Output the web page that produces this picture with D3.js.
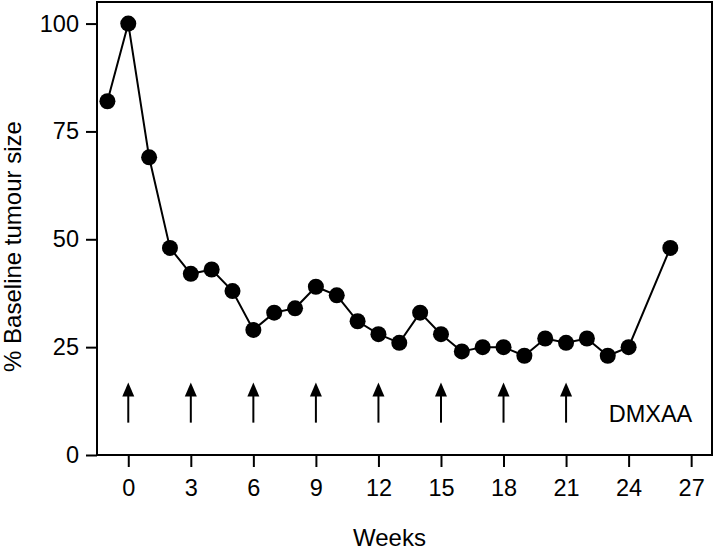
<!DOCTYPE html>
<html>
<head>
<meta charset="utf-8">
<script src="https://cdn.jsdelivr.net/npm/d3@7"></script>
<style>
  html, body { margin: 0; padding: 0; background: #fff; }
  svg { display: block; font-family: "Liberation Sans", Arial, Helvetica, sans-serif; }
</style>
</head>
<body>
<svg id="chart" width="714" height="553"></svg>
<script>
// Data
const weeks = [-1, 0, 1, 2, 3, 4, 5, 6, 7, 8, 9, 10, 11, 12, 13, 14, 15, 16, 17, 18, 19, 20, 21, 22, 23, 24, 26];
const tumourSize = [82, 100, 69, 48, 42, 43, 38, 29, 33, 34, 39, 37, 31, 28, 26, 33, 28, 24, 25, 25, 23, 27, 26, 27, 23, 25, 48];
const doseWeeks = [0, 3, 6, 9, 12, 15, 18, 21];
const xTicks = [0, 3, 6, 9, 12, 15, 18, 21, 24, 27];
const yTicks = [0, 25, 50, 75, 100];
const arrowRange = [7.5, 16.8];
const annotation = "DMXAA";
const xTitle = "Weeks";
const yTitle = "% Baseline tumour size";

(function () {
const svg = d3.select("#chart");
const mLeft = 97, mRight = 712, mTop = 2, mBottom = 455;

const x = d3.scaleLinear().domain([-1.5, 28]).range([mLeft, mRight]);
const y = d3.scaleLinear().domain([0, 105]).range([mBottom, mTop]);

// Axes
const xAxis = svg.append("g")
  .attr("transform", `translate(0,${mBottom})`)
  .call(d3.axisBottom(x).tickValues(xTicks).tickSize(12).tickPadding(12));
const yAxis = svg.append("g")
  .attr("transform", `translate(${mLeft},0)`)
  .call(d3.axisLeft(y).tickValues(yTicks).tickSize(11).tickPadding(7));

[xAxis, yAxis].forEach(g => {
  g.select(".domain").remove();
  g.selectAll(".tick line").attr("stroke", "#000").attr("stroke-width", 2);
  g.selectAll(".tick text").attr("fill", "#000").style("font-size", "23.5px")
    .style("font-family", "'Liberation Sans', Arial, Helvetica, sans-serif");
});

// Frame
svg.append("rect")
  .attr("x", mLeft).attr("y", mTop)
  .attr("width", mRight - mLeft).attr("height", mBottom - mTop)
  .attr("fill", "none").attr("stroke", "#000").attr("stroke-width", 2);

// Arrows
svg.append("g").selectAll("line.arrow")
  .data(doseWeeks)
  .join("line")
  .attr("class", "arrow")
  .attr("x1", d => x(d)).attr("x2", d => x(d))
  .attr("y1", y(arrowRange[0])).attr("y2", y(arrowRange[1]) + 10)
  .attr("stroke", "#000").attr("stroke-width", 2);

svg.append("g").selectAll("path.head")
  .data(doseWeeks)
  .join("path")
  .attr("class", "head")
  .attr("d", d => {
    const cx = x(d), ty = y(arrowRange[1]);
    return `M${cx - 6},${ty + 14} L${cx},${ty} L${cx + 6},${ty + 14} Z`;
  })
  .attr("fill", "#000");

svg.append("text")
  .attr("x", x(25.05)).attr("y", y(7.7))
  .attr("text-anchor", "middle")
  .style("font-size", "23.5px")
  .text(annotation);

// Line
const pts = weeks.map((w, i) => [w, tumourSize[i]]);
svg.append("path")
  .datum(pts)
  .attr("fill", "none").attr("stroke", "#000").attr("stroke-width", 2)
  .attr("d", d3.line().x(d => x(d[0])).y(d => y(d[1])));

svg.append("g").selectAll("circle")
  .data(pts)
  .join("circle")
  .attr("cx", d => x(d[0])).attr("cy", d => y(d[1]))
  .attr("r", 8).attr("fill", "#000");

// Titles
svg.append("text")
  .attr("x", (mLeft + mRight) / 2 - 15).attr("y", 546)
  .attr("text-anchor", "middle")
  .style("font-size", "24px")
  .text(xTitle);

svg.append("text")
  .attr("transform", `translate(21,${(120 + 373) / 2}) rotate(-90)`)
  .attr("text-anchor", "middle")
  .style("font-size", "24px")
  .text(yTitle);
})();
</script>
</body>
</html>
